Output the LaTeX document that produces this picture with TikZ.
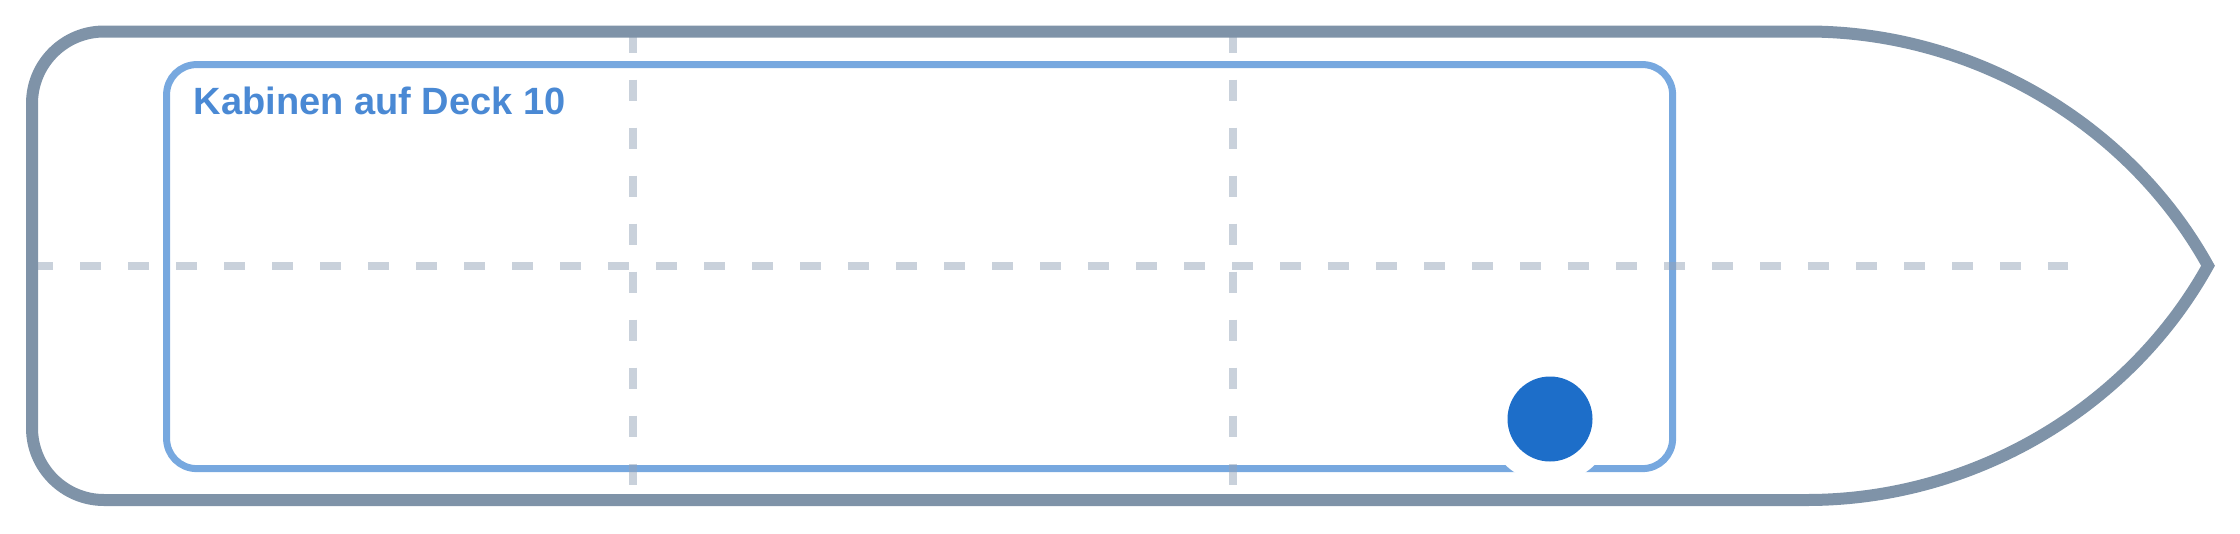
\documentclass[tikz,border=0pt]{standalone}
\usepackage{fontspec}
\setsansfont{Liberation Sans}
\usetikzlibrary{positioning}
\definecolor{hullgray}{HTML}{7F93A8}
\definecolor{deckblue}{HTML}{77A8DF}
\definecolor{labelblue}{HTML}{4A89D4}
\definecolor{spotblue}{HTML}{1D6EC9}
\definecolor{guidegray}{HTML}{94A3B8}
\tikzset{%
hull/.style={draw=hullgray,line width=12pt,line join=miter},
deckbox/.style={draw=deckblue,line width=7pt,rounded corners=30pt,rectangle,minimum width=1506pt,minimum height=404pt,inner sep=0},
decklabel/.style={text=labelblue,font=\sffamily\bfseries\fontsize{38}{38}\selectfont,inner sep=0,anchor=base west},
guide/.style={draw=guidegray,draw opacity=0.5,line width=8pt,dash pattern=on 21pt off 27pt},
halo/.style={circle,fill=white,minimum size=128pt,inner sep=0},
spotdot/.style={circle,fill=spotblue,minimum size=85pt,inner sep=0}
}

\begin{document}
\begin{tikzpicture}[x=1pt,y=-1pt]
  \useasboundingbox (0,0) rectangle (2240,533);

  \node[deckbox] (deck) at (919.6,266.6) {};

  \draw[guide] (32,265.75) -- (2068,265.75);
  \foreach \x in {633,1233}
    \draw[guide] (\x,31.5) -- (\x,500);

  \draw[hull] (1000,31.5) -- (1807,31.5)
    .. controls (1975,31.5) and (2130,125) .. (2208,265.75)
    .. controls (2130,406.5) and (1975,500) .. (1807,500)
    -- (1000,500) [rounded corners=72pt] -- (32,500) -- (32,31.5) -- cycle;

  \node[decklabel] (title) at ([xshift=30.5pt,yshift=-53.2pt]deck.north west) {Kabinen auf Deck 10};

  \node[halo] (spothalo) at (1550,419) {};
  \node[spotdot] (spot) at (spothalo) {};
\end{tikzpicture}
\end{document}
